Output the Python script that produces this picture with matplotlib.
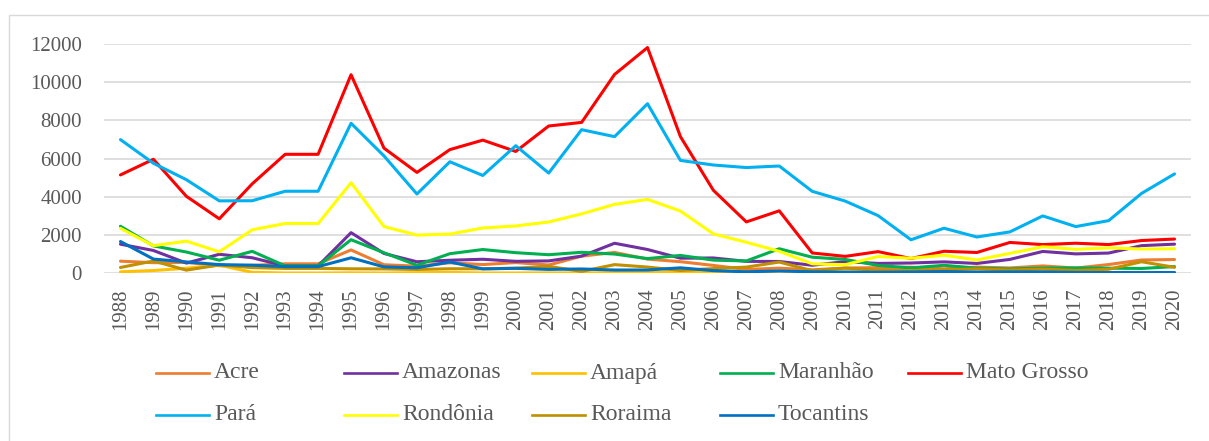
import matplotlib
matplotlib.use("Agg")
import matplotlib.pyplot as plt
from matplotlib.lines import Line2D
from matplotlib.patches import Rectangle

# Annual deforestation by state, km2 (PRODES), 1988-2020
years = list(range(1988, 2021))

acre = [620, 540, 550, 380, 400, 482, 482, 1208, 433, 358, 536, 441, 547, 419,
        883, 1078, 728, 592, 398, 184, 254, 167, 259, 280, 305, 221, 309, 264,
        372, 257, 444, 682, 706]
amazonas = [1510, 1180, 520, 980, 799, 370, 370, 2114, 1023, 589, 670, 720, 612,
            634, 885, 1558, 1232, 775, 788, 610, 604, 405, 595, 502, 523, 583,
            500, 712, 1129, 1001, 1045, 1434, 1512]
amapa = [60, 130, 250, 410, 36, 0, 0, 9, 0, 18, 30, 0, 0, 7, 0, 25, 46, 33, 30,
         39, 100, 70, 53, 66, 27, 23, 31, 25, 17, 24, 24, 32, 24]
maranhao = [2450, 1420, 1100, 670, 1135, 372, 372, 1745, 1061, 409, 1012, 1230,
            1065, 958, 1085, 993, 755, 922, 674, 631, 1271, 828, 712, 396, 269,
            403, 257, 209, 258, 265, 253, 237, 336]
mato_grosso = [5140, 5960, 4020, 2840, 4674, 6220, 6220, 10391, 6543, 5271, 6466,
               6963, 6369, 7703, 7892, 10405, 11814, 7145, 4333, 2678, 3258, 1049,
               871, 1120, 757, 1139, 1075, 1601, 1489, 1561, 1490, 1702, 1779]
para = [6990, 5750, 4890, 3780, 3787, 4284, 4284, 7845, 6135, 4139, 5829, 5111,
        6671, 5237, 7510, 7145, 8870, 5899, 5659, 5526, 5607, 4281, 3770, 3008,
        1741, 2346, 1887, 2153, 2992, 2433, 2744, 4172, 5192]
rondonia = [2340, 1430, 1670, 1110, 2265, 2595, 2595, 4730, 2432, 1986, 2041,
            2358, 2465, 2673, 3099, 3597, 3858, 3244, 2049, 1611, 1136, 482, 435,
            865, 773, 932, 684, 1030, 1376, 1243, 1316, 1257, 1273]
roraima = [290, 630, 150, 420, 281, 240, 240, 220, 214, 184, 223, 220, 253, 345,
           84, 439, 311, 133, 231, 309, 574, 121, 256, 141, 124, 170, 219, 156,
           202, 132, 195, 590, 297]
tocantins = [1650, 730, 580, 440, 409, 333, 333, 797, 320, 273, 576, 216, 244,
             189, 212, 156, 158, 271, 124, 63, 107, 61, 49, 40, 52, 74, 50, 57,
             58, 31, 25, 21, 25]

series = [
    ("Acre", acre, "#ED7D31"),
    ("Amazonas", amazonas, "#7030A0"),
    ("Amapá", amapa, "#FFC000"),
    ("Maranhão", maranhao, "#00B050"),
    ("Mato Grosso", mato_grosso, "#FF0000"),
    ("Pará", para, "#00B0F0"),
    ("Rondônia", rondonia, "#FFFF00"),
    ("Roraima", roraima, "#BF9000"),
    ("Tocantins", tocantins, "#0070C0"),
]

TEXT = "#595959"
plt.rcParams["font.family"] = ["Liberation Serif", "DejaVu Serif"]

fig = plt.figure(figsize=(12.09, 4.41), dpi=100)
W, H = 1209, 441

# chart frame
fig.add_artist(Rectangle((9 / W, -0.05), 1.2, 1 - 15 / H + 0.05,
                         transform=fig.transFigure, fill=False,
                         edgecolor="#D9D9D9", linewidth=1.0))

ax = fig.add_axes([104 / W, 1 - 273 / H, (1191 - 104) / W, (273 - 44) / H])
x = list(range(len(years)))
for name, vals, color in series:
    ax.plot(x, vals, color=color, linewidth=2.2, solid_joinstyle="round",
            solid_capstyle="round")

ax.set_xlim(-0.5, len(years) - 0.5)
ax.set_ylim(0, 12000)
ax.set_yticks(range(0, 12001, 2000))
ax.grid(axis="y", color="#D9D9D9", linewidth=1.2)
ax.set_axisbelow(True)
for s in ax.spines.values():
    s.set_visible(False)
ax.set_xticks(x)
ax.set_xticklabels([str(y) for y in years], rotation=90)
ax.tick_params(axis="y", length=0, pad=16, labelsize=15, labelcolor=TEXT)
ax.tick_params(axis="x", length=0, pad=11, labelsize=15, labelcolor=TEXT)

# legend laid out on an even grid, five entries per row
col_w = 188
for i, (name, vals, color) in enumerate(series):
    row, col = divmod(i, 5)
    x0 = 156 + col * col_w
    yy = 1 - (373 + row * 42) / H
    fig.add_artist(Line2D([x0 / W, (x0 + 53) / W], [yy, yy],
                          transform=fig.transFigure, color=color,
                          linewidth=1.9))
    fig.text((x0 + 58) / W, yy, name, fontsize=17, color=TEXT,
             va="center", ha="left")

fig.savefig("out.png", dpi=100)
